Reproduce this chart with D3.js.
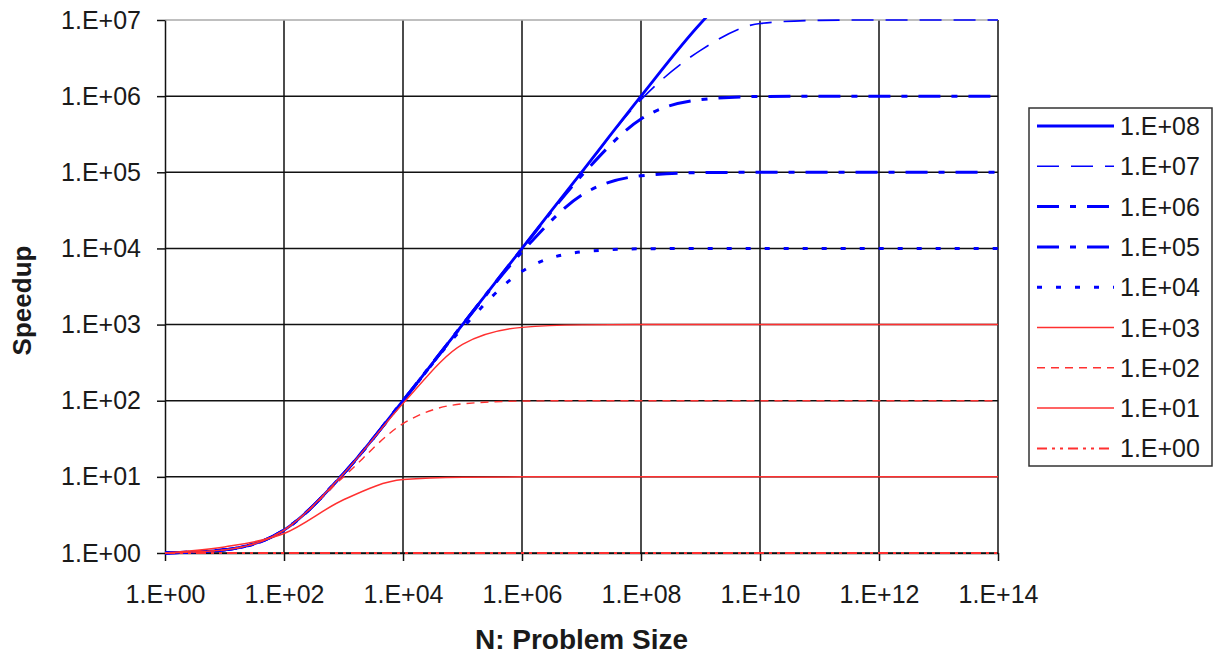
<!DOCTYPE html>
<html>
<head>
<meta charset="utf-8">
<script src="https://cdn.jsdelivr.net/npm/d3@7"></script>
<style>
    body { margin: 0; background: #fff; }
    text { font-family: "Liberation Sans", Arial, sans-serif; fill: #1a1a1a; }
</style>
</head>
<body>
<div id="speedup-chart"></div>
<script>
// problem sizes, one point per decade (1.E+00 .. 1.E+14)
var problemSizes = [1e0, 1e1, 1e2, 1e3, 1e4, 1e5, 1e6, 1e7, 1e8, 1e9, 1e10, 1e11, 1e12, 1e13, 1e14];

// series names (legend order)
var seriesNames = ["1.E+08", "1.E+07", "1.E+06", "1.E+05", "1.E+04", "1.E+03", "1.E+02", "1.E+01", "1.E+00"];

// speedup, one array per series
var speedup1e8 = [1, 1.1, 2, 11, 100, 1000, 1e4, 1e5, 1e6, 9e6, 5e7, 9e7, 1e8, 1e8, 1e8];
var speedup1e7 = [1, 1.1, 2, 11, 100, 1000, 1e4, 9.9e4, 9e5, 4e6, 9e6, 9.9e6, 1e7, 1e7, 1e7];
var speedup1e6 = [1, 1.1, 2, 11, 100, 1000, 9900, 9e4, 5e5, 9e5, 9.9e5, 1e6, 1e6, 1e6, 1e6];
var speedup1e5 = [1, 1.1, 2, 11, 100, 990, 9000, 5e4, 9e4, 9.9e4, 1e5, 1e5, 1e5, 1e5, 1e5];
var speedup1e4 = [1, 1.1, 2, 11, 100, 900, 5000, 9000, 9900, 1e4, 1e4, 1e4, 1e4, 1e4, 1e4];
var speedup1e3 = [1, 1.1, 2, 11, 92, 550, 920, 990, 1000, 1000, 1000, 1000, 1000, 1000, 1000];
var speedup1e2 = [1, 1.1, 2, 10, 50, 91, 99, 100, 100, 100, 100, 100, 100, 100, 100];
var speedup1e1 = [1, 1.2, 1.8, 5, 9.2, 9.9, 10, 10, 10, 10, 10, 10, 10, 10, 10];
var speedup1e0 = [1, 1, 1, 1, 1, 1, 1, 1, 1, 1, 1, 1, 1, 1, 1];

// tick values
var xTicks = [1e0, 1e2, 1e4, 1e6, 1e8, 1e10, 1e12, 1e14];
var yTicks = [1e0, 1e1, 1e2, 1e3, 1e4, 1e5, 1e6, 1e7];

function drawChart() {
    var margin = { top: 20, right: 221, bottom: 103, left: 165 },
        width = 1219 - margin.left - margin.right,
        height = 656 - margin.top - margin.bottom;

    var blue = "#0000ff", red = "#ff3030";

    // one style per series, same order as seriesNames
    var styles = [
        { color: blue, width: 2.8, dash: null },
        { color: blue, width: 1.6, dash: "22,12" },
        { color: blue, width: 3, dash: "22,11,6,11" },
        { color: blue, width: 3, dash: "22,11,6,11" },
        { color: blue, width: 3, dash: "5,14" },
        { color: red, width: 1.4, dash: null },
        { color: red, width: 1.4, dash: "8,6" },
        { color: red, width: 1.5, dash: null },
        { color: red, width: 2, dash: "10,5,3,5,3,5" }
    ];
    var allSeries = [speedup1e8, speedup1e7, speedup1e6, speedup1e5, speedup1e4,
        speedup1e3, speedup1e2, speedup1e1, speedup1e0];

    var x = d3.scaleLog().domain([1, 1e14]).range([0, width]);
    var y = d3.scaleLog().domain([1, 1e7]).range([height, 0]);

    var fmt = function (d) {
        var e = Math.round(Math.log10(d));
        return "1.E+" + (e < 10 ? "0" + e : e);
    };

    var svg = d3.select("#speedup-chart").append("svg")
        .attr("width", 1219)
        .attr("height", 656);
    var g = svg.append("g")
        .attr("transform", "translate(" + margin.left + "," + margin.top + ")");

    // grid
    g.selectAll(".hgrid")
        .data(yTicks.slice(0, 7))
        .enter().append("line")
        .attr("x1", 0).attr("x2", width)
        .attr("y1", function (d) { return y(d); })
        .attr("y2", function (d) { return y(d); })
        .style("stroke", "#111").style("stroke-width", 1.5);
    g.selectAll(".vgrid")
        .data(xTicks.slice(1))
        .enter().append("line")
        .attr("x1", function (d) { return x(d); })
        .attr("x2", function (d) { return x(d); })
        .attr("y1", 0).attr("y2", height)
        .style("stroke", "#111").style("stroke-width", 1.5);
    g.append("line")
        .attr("x1", 0).attr("x2", width).attr("y1", 0).attr("y2", 0)
        .style("stroke", "#aaaaaa").style("stroke-width", 1.5);

    // axes
    var yAxis = g.append("g")
        .call(d3.axisLeft(y).tickValues(yTicks).tickFormat(fmt).tickSizeInner(8).tickSizeOuter(0).tickPadding(16));
    var xAxis = g.append("g")
        .attr("transform", "translate(0," + height + ")")
        .call(d3.axisBottom(x).tickValues(xTicks).tickFormat(fmt).tickSizeInner(8).tickSizeOuter(0));
    [yAxis, xAxis].forEach(function (a) {
        a.selectAll("path, line").style("stroke", "#111").style("stroke-width", 1.5);
        a.selectAll("text").style("font-size", "25px").style("fill", "#1a1a1a")
            .style("font-family", "'Liberation Sans', Arial, sans-serif");
    });
    xAxis.selectAll("text").attr("y", 50).attr("dy", "0");

    // lines, clipped to the plot area, drawn over the grid
    svg.append("clipPath").attr("id", "plot-clip")
        .append("rect").attr("x", 0).attr("y", -2).attr("width", width).attr("height", height + 4);

    var line = d3.line()
        .curve(d3.curveMonotoneX)
        .x(function (d, i) { return x(problemSizes[i]); })
        .y(function (d) { return y(d); });

    var lines = g.append("g").attr("clip-path", "url(#plot-clip)");
    allSeries.forEach(function (s, i) {
        lines.append("path")
            .datum(s)
            .attr("d", line)
            .style("fill", "none")
            .style("stroke", styles[i].color)
            .style("stroke-width", styles[i].width)
            .style("stroke-dasharray", styles[i].dash);
    });

    // axis titles
    svg.append("text")
        .attr("transform", "translate(31," + (margin.top + height / 2 + 14) + ") rotate(-90)")
        .attr("text-anchor", "middle")
        .style("font-size", "26px")
        .style("font-weight", "bold")
        .text("Speedup");
    svg.append("text")
        .attr("x", margin.left + width / 2)
        .attr("y", 649)
        .attr("text-anchor", "middle")
        .style("font-size", "28px")
        .style("font-weight", "bold")
        .text("N: Problem Size");

    // legend
    var legend = svg.append("g");
    legend.append("rect")
        .attr("x", 1029).attr("y", 108)
        .attr("width", 183).attr("height", 358)
        .style("fill", "#fff").style("stroke", "#333").style("stroke-width", 1.5);
    seriesNames.forEach(function (name, i) {
        var ly = 126 + i * 40.3;
        legend.append("line")
            .attr("x1", 1037).attr("x2", 1114)
            .attr("y1", ly).attr("y2", ly)
            .style("stroke", styles[i].color)
            .style("stroke-width", styles[i].width)
            .style("stroke-dasharray", styles[i].dash);
        legend.append("text")
            .attr("x", 1120)
            .attr("y", ly + 9)
            .style("font-size", "25px")
            .text(name);
    });
}

drawChart();
</script>
</body>
</html>
